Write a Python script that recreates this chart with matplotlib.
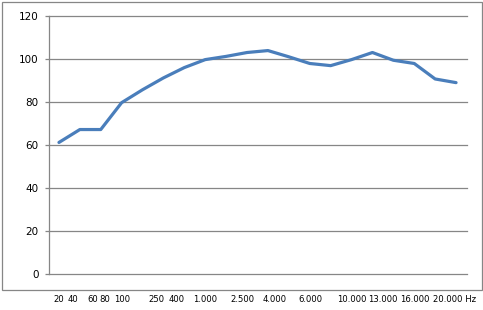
import matplotlib.pyplot as plt
from matplotlib.patches import Rectangle

# measured response, one value per point along the curve
values = [61, 67, 67, 79.5, 85.5, 91, 95.8, 99.5, 101, 102.8,
          103.7, 100.8, 97.7, 96.7, 99.5, 102.8, 99.2, 97.7, 90.5, 88.8]
freq_labels = ['20', '40', '60', '80', '100', '250', '400', '1.000', '2.500',
               '4.000', '6.000', '10.000', '13.000', '16.000', '20.000 Hz']
yticks = [0, 20, 40, 60, 80, 100, 120]

# where the frequency labels sit under the chart (pixels from left)
label_x = [53, 68, 87, 99, 114, 148, 169, 193, 230, 263, 298, 337, 368, 400, 433]

W, H = 483, 310
fig = plt.figure(figsize=(W / 100, H / 100), dpi=100)
fig.patch.set_facecolor('white')

grid_col = '#868686'

# outer chart frame
fig.patches.append(Rectangle((1.5 / W, 1 - 289.5 / H), 480.5 / W, 288 / H,
                             transform=fig.transFigure, fill=False,
                             edgecolor=grid_col, linewidth=0.9))

ax = fig.add_axes([48.5 / W, 1 - 273.7 / H, 418 / W, 258.2 / H])
x = list(range(len(values)))
ax.plot(x, values, color='#4A7EBB', linewidth=2.3, solid_joinstyle='round',
        solid_capstyle='round', zorder=3)

ax.set_xlim(-0.5, len(values) - 0.5)
ax.set_ylim(0, 120)
ax.set_yticks(yticks)
ax.set_xticks([])
for t in yticks:
    ax.axhline(t, color=grid_col, linewidth=0.9, clip_on=False, zorder=1)
for s in ['top', 'right', 'bottom']:
    ax.spines[s].set_visible(False)
ax.spines['left'].set_color(grid_col)
ax.spines['left'].set_linewidth(0.9)
ax.tick_params(axis='y', length=3, width=0.9, color=grid_col, pad=4,
               labelsize=7.5, labelcolor='black')

for lbl, px in zip(freq_labels, label_x):
    fig.text(px / W, 1 - 299 / H, lbl, fontsize=6.1, ha='left', va='center')

fig.savefig('out.png', dpi=100)
